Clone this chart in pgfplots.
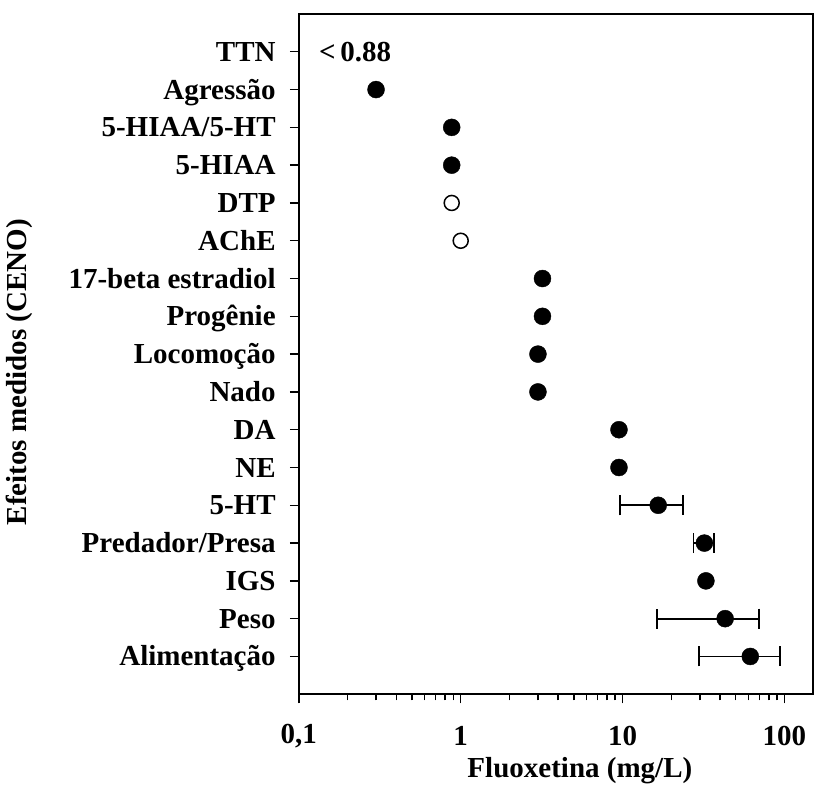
\documentclass[border=0pt]{standalone}
\usepackage{pgfplots}
\pgfplotsset{compat=1.18}
\usepackage{fontspec}
\setmainfont{Liberation Serif}

% Effect concentrations (mg/L); categories numbered from the bottom
\pgfplotstableread{
y   x
16  0.30
15  0.88
14  0.88
11  3.2
10  3.2
9   3.0
8   3.0
7   9.5
6   9.5
3   32.7
}\filled
\pgfplotstableread{
y   x
13  0.88
12  1.0
}\hollow
\pgfplotstableread{
y   x     ex
5   16.6  7.0
4   32.0  4.6
2   43.0  26.6
1   61.5  32.0
}\witherr

\newcommand\labfont{\fontsize{29}{34}\selectfont\bfseries}

\begin{document}
\begin{tikzpicture}
\begin{axis}[
  scale only axis,
  width=514pt, height=680pt,
  xmode=log,
  xmin=0.1, xmax=150,
  ymin=0, ymax=18,
  axis line style={line width=1.6pt},
  every tick/.style={black, line width=1.4pt},
  tick align=outside,
  xtick pos=bottom, ytick pos=left,
  major tick length=9pt,
  minor tick length=6pt,
  xtick={0.1,1,10,100},
  xticklabels={{0,1},1,10,100},
  minor xtick={0.2,0.3,0.4,0.5,0.6,0.7,0.8,0.9,2,3,4,5,6,7,8,9,20,30,40,50,60,70,80,90},
  ytick={1,...,17},
  yticklabels={Alimentação,Peso,IGS,Predador/Presa,5-HT,NE,DA,Nado,Locomoção,Progênie,17-beta estradiol,AChE,DTP,5-HIAA,5-HIAA/5-HT,Agressão,TTN},
  font=\labfont,
  ticklabel style={font=\labfont},
  /pgf/number format/assume math mode=true,
  xticklabel style={anchor=center, yshift=-33pt},
  yticklabel style={anchor=base east, inner sep=0pt, yshift=-9.5pt, xshift=-14pt},
  xlabel={Fluoxetina (mg/L)},
  ylabel={Efeitos medidos (CENO)},
  xlabel style={at={([xshift=24pt,yshift=-76pt]axis description cs:0.5,0)}, anchor=center},
  ylabel style={at={([xshift=-279pt,yshift=-18pt]axis description cs:0,0.5)}, anchor=center},
  clip=false,
]
\addplot[only marks, mark=*, mark size=8.5pt, black] table[x=x, y=y] {\filled};
\addplot[only marks, mark=o, mark size=7.5pt, black, line width=1.5pt, mark options={fill=white}] table[x=x, y=y] {\hollow};
\addplot[only marks, mark=*, mark size=8.5pt, black,
  error bars/x dir=both, error bars/x explicit,
  error bars/error mark=|,
  error bars/error bar style={line width=1.8pt, black},
  error bars/error mark options={line width=1.8pt, mark size=10pt, black}]
  table[x=x, y=y, x error=ex] {\witherr};
\node[font=\labfont] at (axis cs:0.223,17) {<\,0.88};
\end{axis}
\path ([shift={(-298.7pt,-95pt)}]current axis.south west) rectangle ([shift={(2pt,14pt)}]current axis.north east);
\end{tikzpicture}
\end{document}
